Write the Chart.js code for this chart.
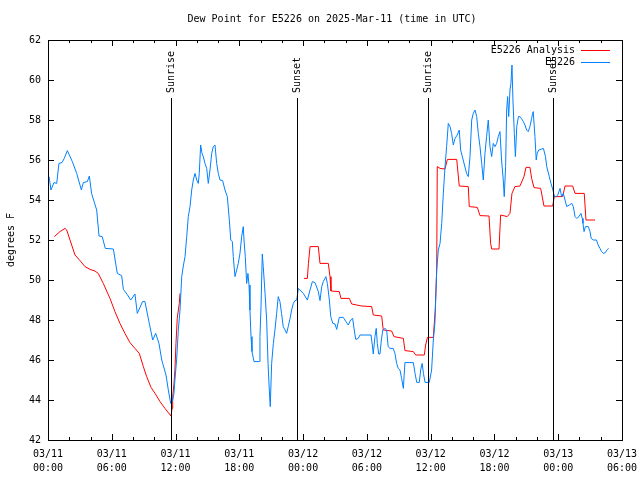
<!DOCTYPE html>
<html>
<head>
<meta charset="utf-8">
<script src="https://cdn.jsdelivr.net/npm/chart.js@4"></script>
<style>
  body { margin: 0; background: #fff; }
  canvas { display: block; }
</style>
</head>
<body>
<canvas id="c" width="640" height="480"></canvas>
<script>
// hours since 03/11 00:00 UTC
const stationHours = [0.1,0.28,0.56,0.82,1.03,1.32,1.53,1.82,2.29,2.7,3.14,3.32,3.7,3.89,4.1,4.58,4.8,5.1,5.39,6.15,6.52,6.93,7.09,7.46,7.78,8.18,8.4,8.9,9.12,9.53,9.85,10.13,10.44,10.7,11.1,11.32,11.54,11.73,11.85,11.94,12.1,12.26,12.42,12.58,12.73,12.89,13.05,13.2,13.36,13.52,13.67,13.83,13.99,14.14,14.23,14.36,14.49,14.61,14.77,14.93,15.08,15.24,15.4,15.55,15.71,15.87,16.02,16.18,16.43,16.65,16.87,17.06,17.19,17.34,17.43,17.59,17.75,17.9,18.06,18.22,18.37,18.44,18.56,18.69,18.81,18.91,19.0,19.1,19.19,19.38,19.88,19.94,20.04,20.16,20.25,20.42,20.57,20.7,20.82,20.91,21.04,21.2,21.35,21.51,21.66,21.82,21.97,22.13,22.3,22.45,22.6,22.77,22.92,23.08,23.23,23.4,23.55,23.7,24.02,24.4,24.65,24.87,25.12,25.43,25.59,25.75,25.9,26.15,26.28,26.47,26.6,26.79,27.0,27.16,27.4,27.78,28.03,28.25,28.47,28.66,28.81,28.95,29.19,29.35,30.39,30.51,30.6,30.76,30.88,30.98,31.11,31.23,31.36,31.5,31.7,31.86,32.0,32.17,32.48,32.64,32.8,32.95,33.11,33.27,33.43,33.58,34.37,34.53,34.69,34.93,35.06,35.2,35.32,35.47,35.87,36.09,36.25,36.4,36.57,36.72,36.88,37.04,37.19,37.35,37.5,37.66,37.82,37.97,38.13,38.29,38.5,38.69,38.82,39.06,39.38,39.54,39.7,39.86,40.01,40.17,40.33,40.48,40.64,40.8,40.95,41.11,41.26,41.42,41.58,41.74,41.89,42.05,42.21,42.36,42.52,42.67,42.83,42.92,43.05,43.15,43.24,43.34,43.46,43.55,43.65,43.74,43.87,43.97,44.1,44.26,44.41,44.53,44.72,44.87,45.03,45.18,45.34,45.5,45.59,45.65,45.81,45.93,46.02,46.17,46.61,46.8,46.92,47.16,47.32,47.5,47.65,47.81,47.96,48.17,48.32,48.48,48.64,48.8,49.04,49.27,49.42,49.58,49.74,49.95,50.14,50.26,50.33,50.43,50.56,50.83,50.99,51.1,51.3,51.6,51.76,51.93,52.08,52.24,52.43,52.62,52.74];
const stationDew = [55.17,54.5,54.87,54.83,55.83,55.87,56.08,56.47,55.92,55.33,54.5,54.87,54.92,55.2,54.33,53.5,52.2,52.17,51.58,51.55,50.33,50.22,49.53,49.27,49.0,49.3,48.33,48.92,48.92,47.83,47.0,47.33,46.83,46.0,45.25,44.5,43.83,44.0,44.33,45.0,46.0,47.5,48.5,50.17,50.7,51.17,52.17,53.17,53.67,54.5,55.0,55.33,55.0,54.83,55.33,56.75,56.33,56.17,55.83,55.58,54.83,55.5,56.33,56.67,56.75,55.83,55.33,55.0,54.97,54.5,54.17,53.0,52.0,51.92,51.17,50.17,50.5,50.83,51.33,52.17,52.67,52.0,51.17,49.83,50.33,49.75,48.5,47.17,46.42,45.92,45.92,47.17,48.67,51.3,50.67,49.33,48.0,45.83,44.5,43.67,45.83,46.83,47.5,48.33,49.17,48.92,48.33,47.67,47.5,47.33,47.67,48.08,48.5,48.83,48.97,49.0,49.58,49.5,49.33,49.0,49.5,49.92,49.87,49.42,48.97,49.67,49.92,50.17,49.83,49.0,48.17,47.83,47.8,47.53,48.13,48.13,47.92,47.75,48.0,48.08,47.5,47.03,47.08,47.25,47.25,46.75,46.3,47.17,47.58,46.83,46.3,46.3,47.0,47.5,47.58,47.5,46.67,46.58,46.58,46.33,45.83,45.58,45.5,45.08,44.58,45.87,45.87,45.33,44.88,44.88,45.5,45.83,45.33,44.88,44.88,45.5,47.0,47.83,50.5,51.5,51.83,52.83,54.33,55.67,56.67,57.83,57.67,57.33,56.75,57.08,57.25,57.5,56.5,56.0,55.33,55.17,56.17,58.0,58.33,58.5,58.17,57.33,56.67,55.83,55.0,56.33,57.17,58.0,56.67,56.17,56.83,56.67,56.83,57.17,57.42,56.0,55.0,54.17,55.67,58.5,59.17,58.17,59.5,59.83,60.75,59.0,57.33,56.17,57.67,58.17,58.17,58.08,57.92,57.75,57.5,57.42,57.67,58.08,58.33,58.42,57.17,56.0,56.33,56.5,56.58,56.17,55.67,55.17,54.83,54.5,54.17,54.17,54.25,54.58,54.17,54.33,54.0,53.67,53.75,53.83,53.67,53.17,53.08,53.17,53.33,53.08,52.83,52.42,52.67,52.67,52.42,52.08,52.0,52.0,51.75,51.58,51.42,51.33,51.37,51.53,51.58];

// analysis series, null = no analysis
const analysisHours = [0.6,1.13,1.6,1.76,2.07,2.54,3.01,3.48,3.95,4.42,4.73,5.2,5.83,6.3,6.77,7.24,7.71,8.18,8.59,8.97,9.28,9.69,10.07,10.54,11.0,11.57,11.67,11.73,11.85,11.94,12.04,12.16,12.35,12.42,18.0,24.08,24.4,24.5,24.65,25.43,25.59,26.37,26.53,26.62,27.4,27.56,28.35,28.57,29.51,30.45,30.6,31.39,31.54,32.33,32.55,33.43,33.58,34.37,34.59,35.4,35.53,35.7,36.25,36.43,36.57,36.62,36.88,37.35,37.57,38.45,38.69,39.54,39.63,40.39,40.64,41.49,41.64,41.74,42.43,42.58,43.2,43.46,43.65,43.93,44.4,44.78,44.97,45.34,45.5,45.72,46.35,46.66,47.48,47.63,48.42,48.64,49.36,49.58,50.45,50.61,51.46];
const analysisDew = [52.17,52.42,52.58,52.5,52.0,51.25,50.97,50.67,50.53,50.45,50.33,49.83,49.08,48.42,47.83,47.33,46.87,46.58,46.33,45.67,45.17,44.63,44.33,43.92,43.58,43.2,43.58,44.17,44.8,45.5,46.83,48.08,48.83,49.33,null,50.08,50.08,50.83,51.67,51.67,50.83,50.83,50.17,49.45,49.42,49.08,49.08,48.8,48.7,48.67,48.25,48.2,47.5,47.45,47.17,47.08,46.47,46.42,46.25,46.25,46.75,47.13,47.13,48.5,50.58,55.67,55.58,55.55,56.03,56.03,54.7,54.67,53.67,53.63,53.22,53.2,51.83,51.55,51.55,53.25,53.17,53.33,54.33,54.67,54.7,55.17,55.63,55.63,55.08,54.62,54.58,53.7,53.7,54.17,54.17,54.7,54.7,54.33,54.33,53.0,53.0];

const sunHours = [11.57, 23.42, 35.75, 47.5];
const sunLabels = ['Sunrise', 'Sunset', 'Sunrise', 'Sunset'];

const xTickLabels = [
  ['03/11', '00:00'], ['03/11', '06:00'], ['03/11', '12:00'], ['03/11', '18:00'],
  ['03/12', '00:00'], ['03/12', '06:00'], ['03/12', '12:00'], ['03/12', '18:00'],
  ['03/13', '00:00'], ['03/13', '06:00']
];

const seriesNames = ['E5226 Analysis', 'E5226'];
const seriesColors = ['#ff0000', '#0080ff'];

const FONT = '10px "DejaVu Sans Mono", monospace';

const toPoints = (xs, ys) => xs.map((x, i) => ({ x: x, y: ys[i] }));

// gnuplot-like frame, ticks, title, sun lines and key
const decor = {
  id: 'decor',
  afterDraw(chart) {
    const ctx = chart.ctx;
    const a = chart.chartArea;
    const xs = chart.scales.x, ys = chart.scales.y;
    ctx.save();
    ctx.strokeStyle = '#000';
    ctx.lineWidth = 1;

    // sunrise / sunset lines
    ctx.fillStyle = '#000';
    ctx.font = FONT;
    sunHours.forEach((h, i) => {
      const px = Math.round(xs.getPixelForValue(h)) + 0.5;
      ctx.beginPath();
      ctx.moveTo(px, 98);
      ctx.lineTo(px, a.bottom);
      ctx.stroke();
      ctx.save();
      ctx.translate(px, 93);
      ctx.rotate(-Math.PI / 2);
      ctx.textAlign = 'left';
      ctx.textBaseline = 'middle';
      ctx.fillText(sunLabels[i], 0, 0);
      ctx.restore();
    });

    // frame
    ctx.strokeRect(Math.round(a.left) + 0.5, Math.round(a.top) + 0.5,
      Math.round(a.right - a.left), Math.round(a.bottom - a.top));

    // x ticks (bottom and top, inward), minor every 2h
    for (let h = 0; h <= 54; h += 2) {
      const px = Math.round(xs.getPixelForValue(h)) + 0.5;
      const len = h % 6 === 0 ? 6 : 3;
      ctx.beginPath();
      ctx.moveTo(px, a.bottom); ctx.lineTo(px, a.bottom - len);
      ctx.moveTo(px, a.top); ctx.lineTo(px, a.top + len);
      ctx.stroke();
    }
    // y ticks (left and right)
    for (let v = 42; v <= 62; v += 2) {
      const py = Math.round(ys.getPixelForValue(v)) + 0.5;
      ctx.beginPath();
      ctx.moveTo(a.left, py); ctx.lineTo(a.left + 6, py);
      ctx.moveTo(a.right, py); ctx.lineTo(a.right - 6, py);
      ctx.stroke();
    }

    // title
    ctx.textAlign = 'center';
    ctx.textBaseline = 'middle';
    ctx.fillText('Dew Point for E5226 on 2025-Mar-11 (time in UTC)', 332, 19);

    // y axis label
    ctx.save();
    ctx.translate(11, 240);
    ctx.rotate(-Math.PI / 2);
    ctx.fillText('degrees F', 0, 0);
    ctx.restore();

    // key
    ctx.textAlign = 'right';
    seriesNames.forEach((name, i) => {
      const y = 50 + i * 12;
      ctx.fillStyle = '#000';
      ctx.fillText(name, 575, y);
      ctx.strokeStyle = seriesColors[i];
      ctx.beginPath();
      ctx.moveTo(581, y + 0.5);
      ctx.lineTo(610, y + 0.5);
      ctx.stroke();
    });
    ctx.restore();
  }
};

const chart = new Chart(document.getElementById('c'), {
  type: 'line',
  data: {
    datasets: [
      {
        label: seriesNames[1],
        data: toPoints(stationHours, stationDew),
        borderColor: seriesColors[1],
        borderWidth: 1,
        pointRadius: 0,
        tension: 0
      },
      {
        label: seriesNames[0],
        data: toPoints(analysisHours, analysisDew),
        borderColor: seriesColors[0],
        borderWidth: 1,
        pointRadius: 0,
        tension: 0,
        spanGaps: false
      }
    ]
  },
  options: {
    responsive: false,
    devicePixelRatio: 1,
    animation: false,
    layout: { padding: { top: 40, right: 18, left: 0, bottom: 0 } },
    plugins: {
      legend: { display: false },
      title: { display: false },
      tooltip: { enabled: false }
    },
    scales: {
      x: {
        type: 'linear',
        min: 0,
        max: 54,
        grid: { display: false, drawTicks: false },
        border: { display: false },
        afterFit: (s) => { s.height = 40; s.paddingLeft = 0; s.paddingRight = 0; },
        ticks: {
          stepSize: 6,
          autoSkip: false,
          maxRotation: 0,
          padding: 7,
          color: '#000',
          font: { family: '"DejaVu Sans Mono", monospace', size: 10, lineHeight: 1.4 },
          callback: (v) => xTickLabels[Math.round(v / 6)]
        }
      },
      y: {
        min: 42,
        max: 62,
        grid: { display: false, drawTicks: false },
        border: { display: false },
        afterFit: (s) => { s.width = 48; s.paddingTop = 0; s.paddingBottom = 0; },
        ticks: {
          stepSize: 2,
          padding: 7,
          color: '#000',
          font: { family: '"DejaVu Sans Mono", monospace', size: 10 }
        }
      }
    }
  },
  plugins: [decor]
});
</script>
</body>
</html>
